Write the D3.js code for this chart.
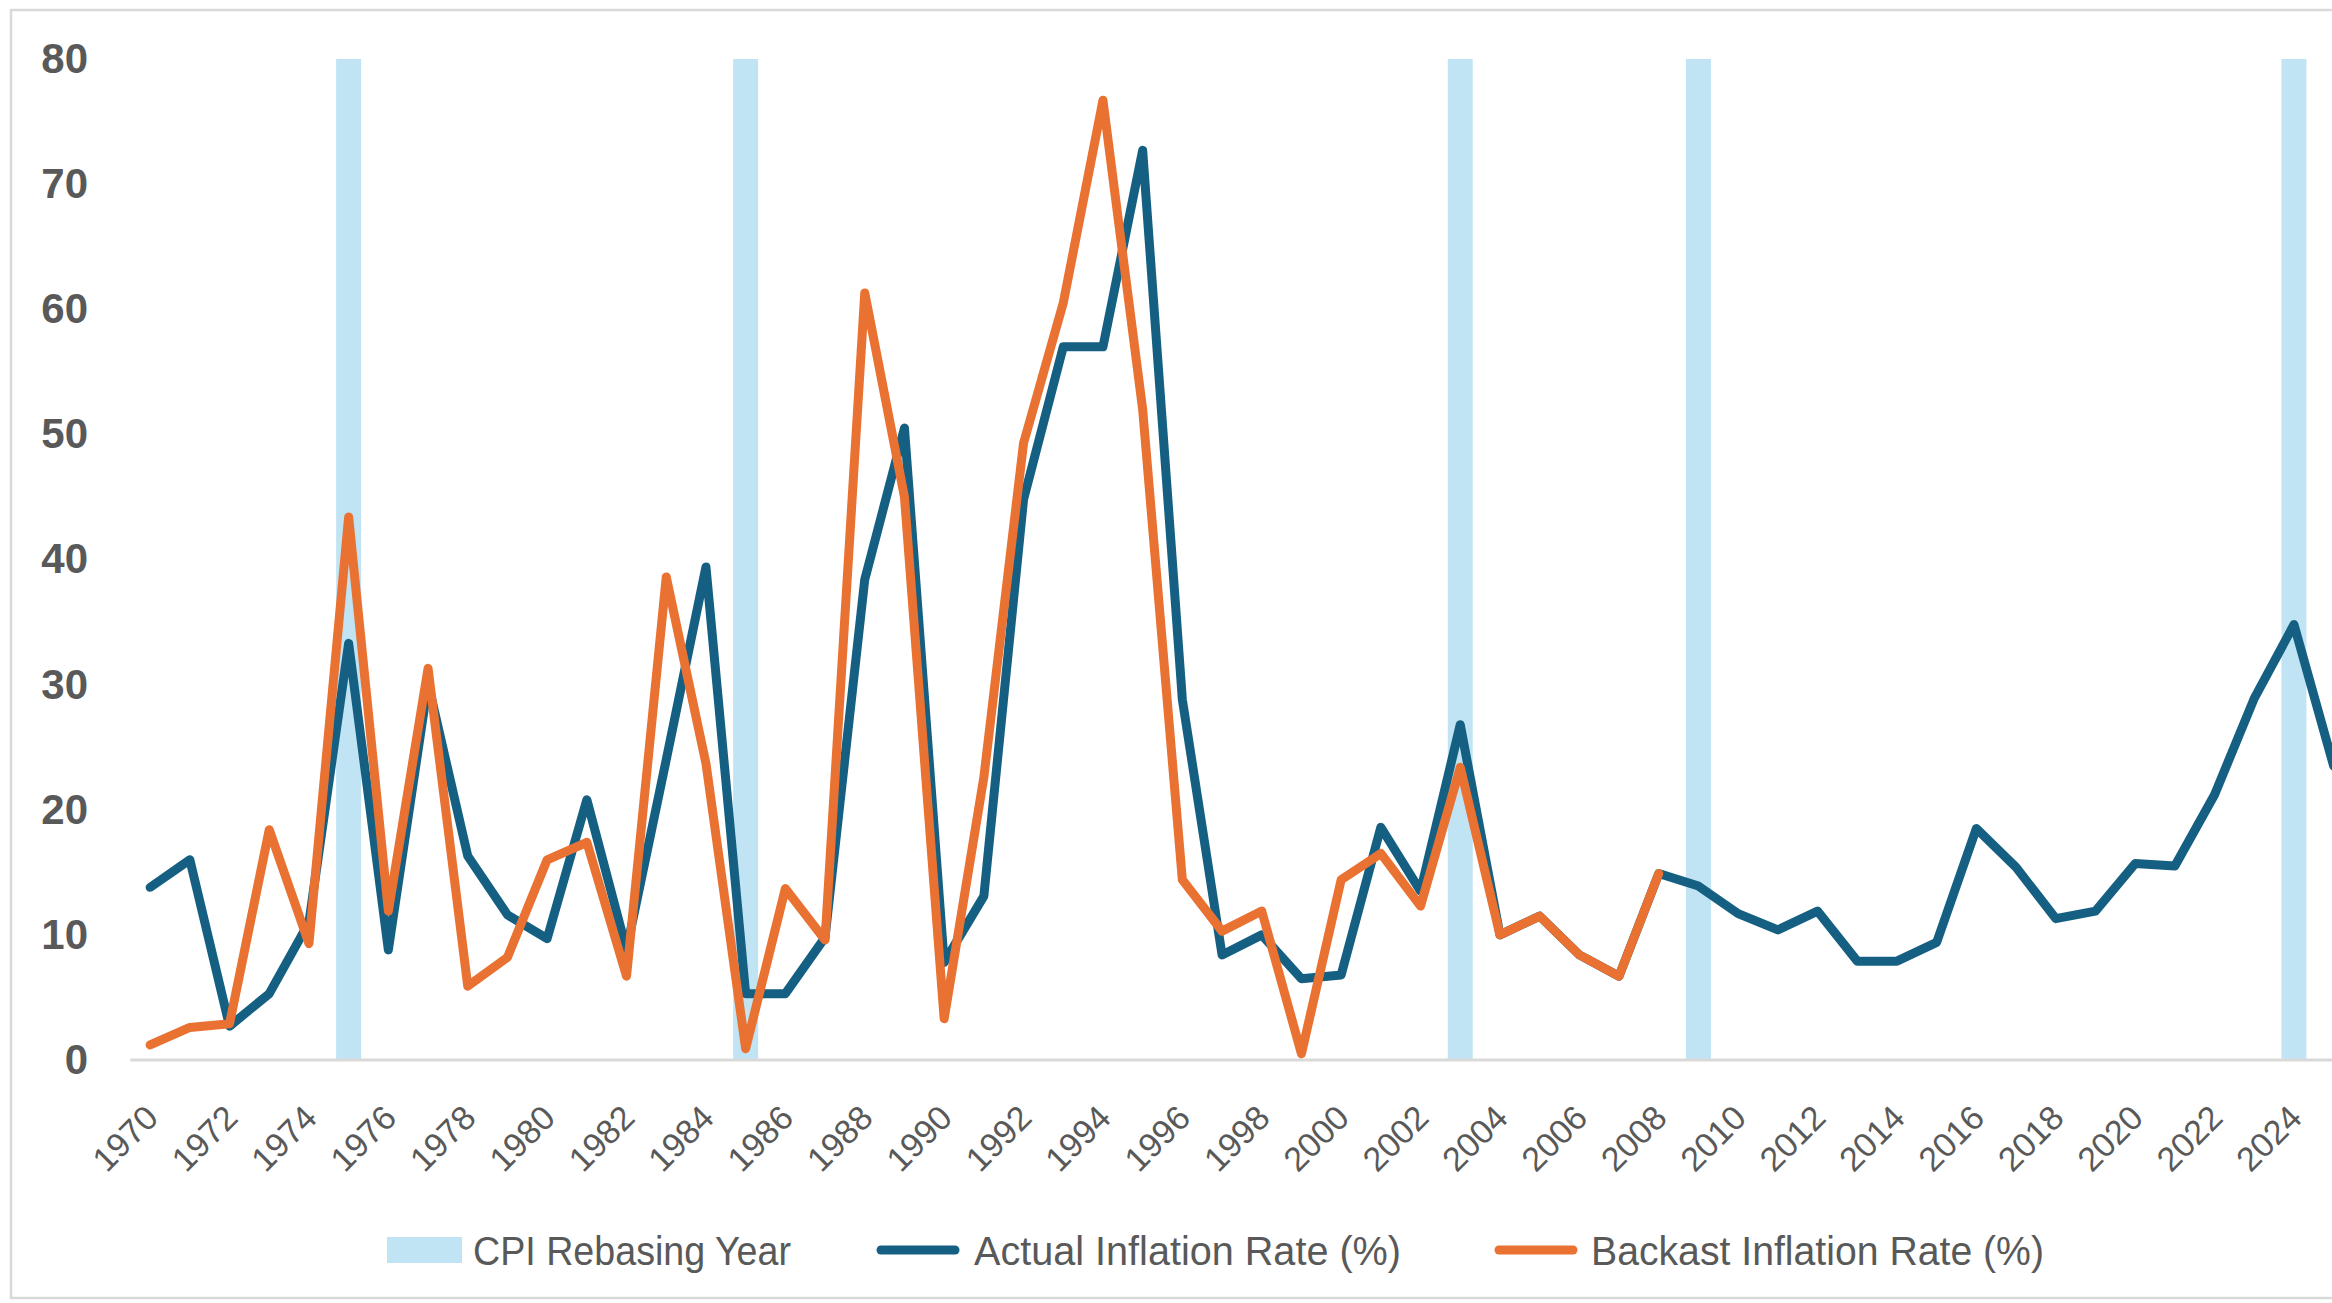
<!DOCTYPE html>
<html>
<head>
<meta charset="utf-8">
<script src="https://cdn.jsdelivr.net/npm/d3@7/dist/d3.min.js"></script>
<style>
  html, body { margin: 0; padding: 0; background: #ffffff; overflow: hidden; }
  svg { display: block; }
</style>
</head>
<body>
<svg id="chart" width="2332" height="1303"></svg>
<script>
// ---- data -------------------------------------------------------------
const years = d3.range(1970, 2026);

// Actual inflation rate (%), 1970–2025
const actualRate = [
  13.8, 16.0, 2.7, 5.3, 11.0, 33.3, 8.8, 30.1, 16.3, 11.6,
  9.7, 20.8, 8.8, 24.0, 39.4, 5.3, 5.3, 9.8, 38.4, 50.5,
  7.8, 13.1, 44.8, 57.0, 57.0, 72.7, 28.8, 8.4, 10.0, 6.5,
  6.8, 18.6, 13.5, 26.8, 10.0, 11.5, 8.4, 6.7, 14.9, 13.9,
  11.7, 10.4, 11.9, 7.9, 7.9, 9.4, 18.5, 15.4, 11.3, 11.9,
  15.7, 15.5, 21.2, 28.9, 34.8, 23.5
];

// Backcast inflation rate (%), 1970–2008
const backcastRate = [
  1.2, 2.6, 2.9, 18.4, 9.3, 43.4, 11.9, 31.3, 5.9, 8.2,
  16.0, 17.4, 6.7, 38.6, 23.7, 0.9, 13.7, 9.6, 61.3, 45.0,
  3.3, 22.6, 49.3, 60.5, 76.7, 52.0, 14.4, 10.3, 11.9, 0.5,
  14.4, 16.5, 12.3, 23.4, 10.0, 11.5, 8.4, 6.7, 14.9
];

// CPI rebasing years (drawn as full-height columns)
const rebasingYears = [1975, 1985, 2003, 2009, 2024];
const rebasingValue = 80;

const yTicks = [0, 10, 20, 30, 40, 50, 60, 70, 80];
const xTickLabels = years.filter((d, i) => i % 2 === 0);

const seriesNames = ["CPI Rebasing Year", "Actual Inflation Rate (%)", "Backast Inflation Rate (%)"];

// ---- layout -----------------------------------------------------------
const colors = { bar: "#c1e4f4", actual: "#156082", backcast: "#e97132", axis: "#d9d9d9", text: "#595959" };
const plot = { left: 130.3, step: 39.7, top: 59, bottom: 1060 };
const lineWidth = 9;

const svg = d3.select("#chart");

// outer chart frame
svg.append("rect")
  .attr("x", 11).attr("y", 10)
  .attr("width", 2400).attr("height", 1288)
  .attr("fill", "#ffffff")
  .attr("stroke", colors.axis)
  .attr("stroke-width", 2.5);

const x = d3.scaleBand()
  .domain(years)
  .range([plot.left, plot.left + plot.step * years.length])
  .paddingInner(0).paddingOuter(0);

const y = d3.scaleLinear()
  .domain([0, 80])
  .range([plot.bottom, plot.top]);

const cx = d => x(d) + x.bandwidth() / 2;

// rebasing-year columns
const barW = x.bandwidth() * 0.63;
svg.append("g")
  .selectAll("rect")
  .data(rebasingYears)
  .join("rect")
  .attr("x", d => cx(d) - barW / 2)
  .attr("y", y(rebasingValue))
  .attr("width", barW)
  .attr("height", y(0) - y(rebasingValue))
  .attr("fill", colors.bar);

// horizontal category axis line
svg.append("line")
  .attr("x1", plot.left).attr("x2", 2400)
  .attr("y1", y(0)).attr("y2", y(0))
  .attr("stroke", colors.axis)
  .attr("stroke-width", 3);

// y axis labels
const yAxis = svg.append("g")
  .attr("transform", "translate(88,0)")
  .call(d3.axisLeft(y).tickValues(yTicks).tickSize(0).tickPadding(0).tickFormat(d3.format("d")));
yAxis.select(".domain").remove();
yAxis.selectAll("text")
  .attr("font-family", "'Liberation Sans', Arial, sans-serif")
  .attr("font-size", 42)
  .attr("font-weight", "bold")
  .attr("fill", colors.text);

// x axis labels, every other year, rotated
const xAxis = svg.append("g")
  .attr("transform", `translate(0,${y(0)})`)
  .call(d3.axisBottom(x).tickValues(xTickLabels).tickSize(0).tickSizeOuter(0));
xAxis.select(".domain").remove();
xAxis.selectAll("text")
  .attr("font-family", "'Liberation Sans', Arial, sans-serif")
  .attr("font-size", 34)
  .attr("fill", colors.text)
  .attr("text-anchor", "end")
  .attr("x", 10)
  .attr("y", 60)
  .attr("dy", 0)
  .attr("transform", "rotate(-45,10,60)");

// lines
const line = d3.line()
  .x((d, i) => cx(years[i]))
  .y(d => y(d));

svg.append("path")
  .datum(actualRate)
  .attr("d", line)
  .attr("fill", "none")
  .attr("stroke", colors.actual)
  .attr("stroke-width", lineWidth)
  .attr("stroke-linejoin", "round")
  .attr("stroke-linecap", "round");

svg.append("path")
  .datum(backcastRate)
  .attr("d", line)
  .attr("fill", "none")
  .attr("stroke", colors.backcast)
  .attr("stroke-width", lineWidth)
  .attr("stroke-linejoin", "round")
  .attr("stroke-linecap", "round");

// legend
const legend = svg.append("g").attr("font-family", "'Liberation Sans', Arial, sans-serif")
  .attr("font-size", 40).attr("fill", colors.text);
const legendY = 1250;
const legendItems = [
  { name: seriesNames[0], kind: "rect", color: colors.bar, sx: 387, tx: 473, len: 318 },
  { name: seriesNames[1], kind: "line", color: colors.actual, sx: 881, tx: 974, len: 427 },
  { name: seriesNames[2], kind: "line", color: colors.backcast, sx: 1499, tx: 1591, len: 453 }
];
legendItems.forEach(it => {
  if (it.kind === "rect") {
    legend.append("rect")
      .attr("x", it.sx).attr("y", legendY - 13)
      .attr("width", 75).attr("height", 26)
      .attr("fill", it.color);
  } else {
    legend.append("line")
      .attr("x1", it.sx).attr("x2", it.sx + 74)
      .attr("y1", legendY).attr("y2", legendY)
      .attr("stroke", it.color)
      .attr("stroke-width", lineWidth)
      .attr("stroke-linecap", "round");
  }
  legend.append("text")
    .attr("x", it.tx).attr("y", legendY + 15)
    .attr("textLength", it.len)
    .attr("lengthAdjust", "spacingAndGlyphs")
    .text(it.name);
});
</script>
</body>
</html>
